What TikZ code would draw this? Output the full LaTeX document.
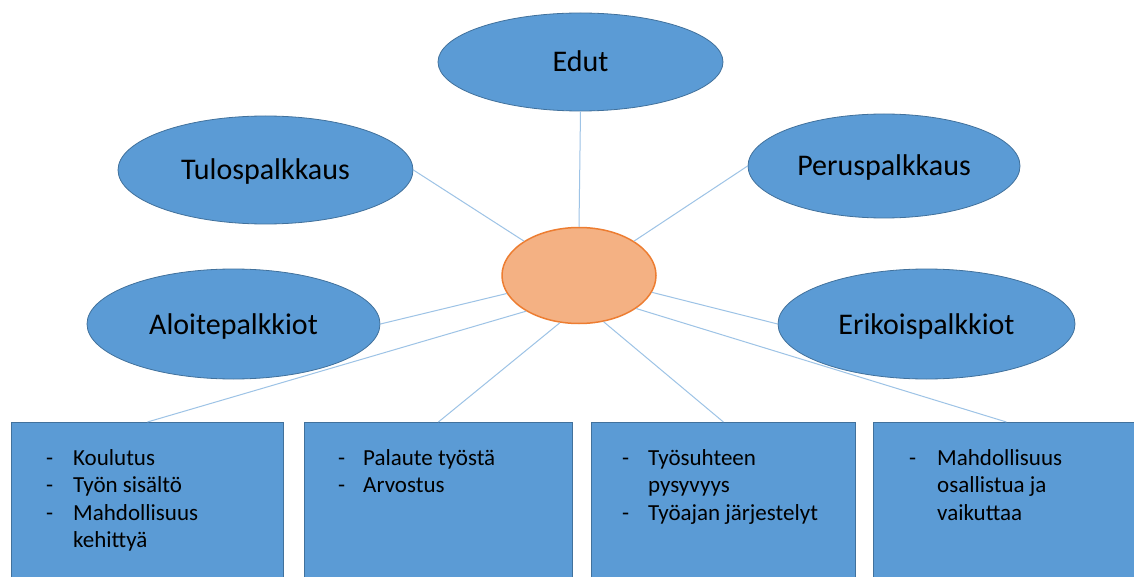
\documentclass[tikz,border=0pt]{standalone}
\usepackage{fontspec}
\setmainfont{Carlito}
\usetikzlibrary{shapes.geometric}
\definecolor{bfill}{HTML}{5B9BD5}
\definecolor{bline}{HTML}{41719C}
\definecolor{ofill}{HTML}{F4B183}
\definecolor{oline}{HTML}{ED7D31}
\definecolor{conn}{HTML}{9DC3E6}
\begin{document}
\begin{tikzpicture}[x=1pt,y=-1pt,
  oval/.style={ellipse, draw=bline, line width=0.8pt, fill=bfill, inner sep=0pt,
    text height=20pt, text depth=0pt, font=\fontsize{30}{36}\selectfont},
  hub/.style={ellipse, draw=oline, line width=1.5pt, fill=ofill, inner sep=0pt,
    minimum width=154pt, minimum height=96pt},
  card/.style={rectangle, draw=bline, line width=0.8pt, fill=bfill, inner sep=0pt,
    minimum height=220pt, anchor=north west},
  link/.style={draw=conn, line width=1pt},
  list/.style={anchor=base west, inner sep=0pt, font=\fontsize{23}{27.5}\selectfont}]
\useasboundingbox (0,0) rectangle (1134,577);
\clip (0,0) rectangle (1134,577);
\fill[white] (0,0) rectangle (1134,577);

% ellipses
\node[oval, minimum width=285pt, minimum height=98pt] (edut) at (580.5,62) {Edut};
\node[oval, minimum width=295pt, minimum height=108pt] (tulos) at (265.5,170) {Tulospalkkaus};
\node[oval, minimum width=272pt, minimum height=104pt] (perus) at (884,166) {Peruspalkkaus};
\node[oval, minimum width=293pt, minimum height=110pt] (aloite) at (233.5,324) {Aloitepalkkiot};
\node[oval, minimum width=297pt, minimum height=110pt] (eriko) at (926.5,324) {Erikoispalkkiot};
\node[hub] (hub) at (579,275.5) {};

% boxes
\node[card, minimum width=272pt] (b1) at (11,422) {};
\node[card, minimum width=268pt] (b2) at (304,422) {};
\node[card, minimum width=264pt] (b3) at (591,422) {};
\node[card, minimum width=266pt] (b4) at (873,422) {};

% box texts
\node[list] (t1) at (46,465) {\begin{tabular}[t]{@{}p{27pt}@{}l@{}}
-&Koulutus\\ -&Työn sisältö\\ -&Mahdollisuus\\ &kehittyä\end{tabular}};
\node[list] (t2) at (338,465) {\begin{tabular}[t]{@{}p{25pt}@{}l@{}}
-&Palaute työstä\\ -&Arvostus\end{tabular}};
\node[list] (t3) at (622,465) {\begin{tabular}[t]{@{}p{26pt}@{}l@{}}
-&Työsuhteen\\ &pysyvyys\\ -&Työajan järjestelyt\end{tabular}};
\node[list] (t4) at (909,465) {\begin{tabular}[t]{@{}p{28pt}@{}l@{}}
-&Mahdollisuus\\ &osallistua ja\\ &vaikuttaa\end{tabular}};

% connectors
\draw[link] (hub.90) -- (edut.south);
\draw[link] (hub.148) -- (tulos.east);
\draw[link] (hub.32) -- (perus.west);
\draw[link] (hub.194) -- (aloite.east);
\draw[link] (hub.-13) -- (eriko.west);
\draw[link] (hub.214) -- (b1.north);
\draw[link] (hub.248) -- (b2.north);
\draw[link] (hub.298) -- (b3.north);
\draw[link] (hub.-30) -- (b4.north);
\end{tikzpicture}
\end{document}
